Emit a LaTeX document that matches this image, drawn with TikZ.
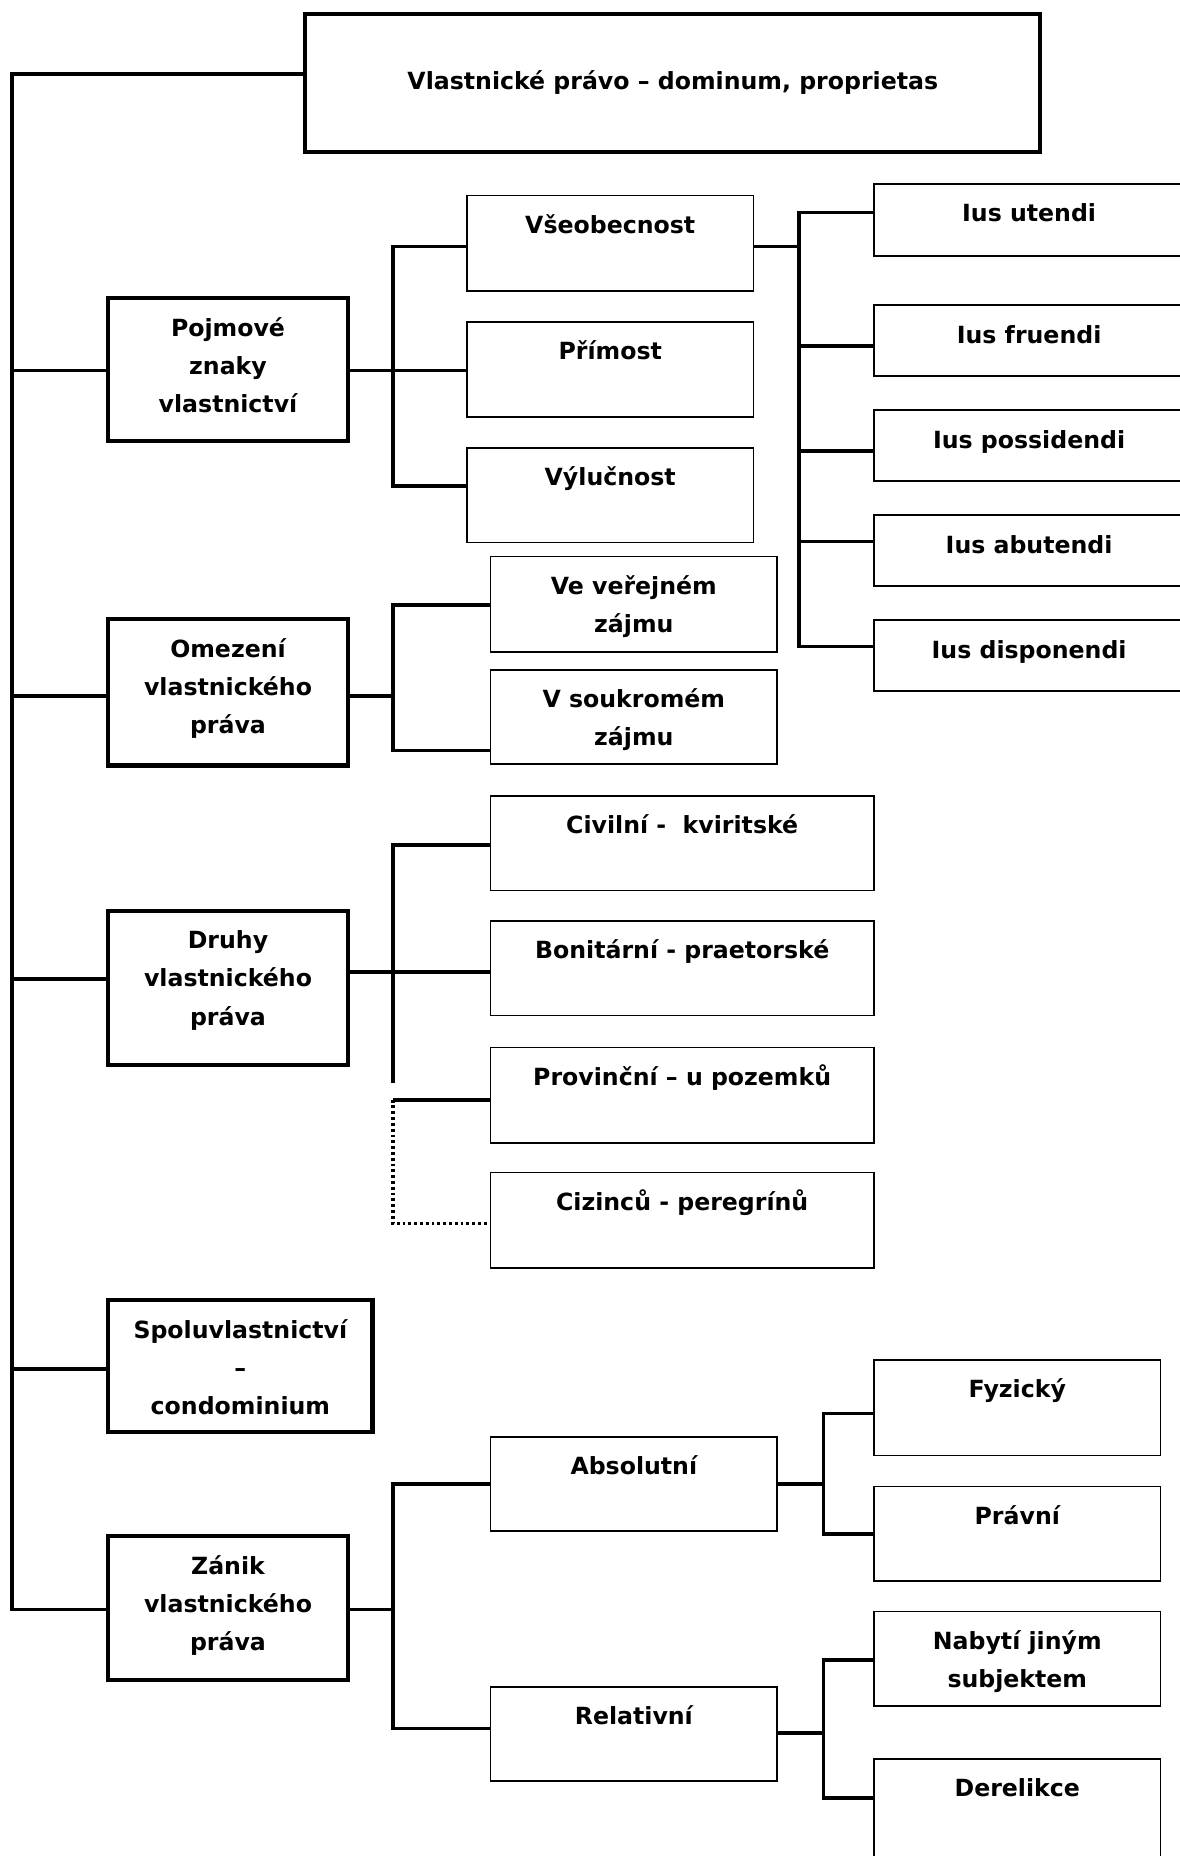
\documentclass[tikz,border=0pt]{standalone}
\usepackage{fontspec}
\setmainfont{DejaVu Sans}
\begin{document}
\begin{tikzpicture}[x=0.02cm,y=-0.02cm,
  font=\fontsize{11.4}{18.4}\selectfont\bfseries,
  box/.style={draw,line width=0.8pt,anchor=north west,inner sep=0pt,align=center,text height=0.64cm},
  twolines/.style={text height=1.29cm},
  threelines/.style={text height=1.94cm},
  mainbox/.style={box,line width=2pt},
  conn/.style={line width=1.8pt},
  dotconn/.style={line width=1.8pt,dash pattern=on 1.4pt off 1.4pt}]
\useasboundingbox (0,0) rectangle (1000,1573);
\fill[white] (0,0) rectangle (1000,1573);
\clip (0,0) rectangle (1000,1573);
\node[draw,line width=2pt,anchor=north west,inner sep=0pt,minimum width=12.46cm,minimum height=2.34cm] (title) at (257,10) {Vlastnické právo – dominum, proprietas};
\node[mainbox,threelines,minimum width=4.06cm,text depth=0.48cm] (pojm) at (90,251) {Pojmové\\znaky\\vlastnictví};
\node[box,minimum width=4.86cm,text depth=0.98cm] (vseob) at (395,165) {Všeobecnost};
\node[box,minimum width=4.86cm,text depth=0.98cm] (prim) at (395,272) {Přímost};
\node[box,minimum width=4.86cm,text depth=0.96cm] (vyluc) at (395,379) {Výlučnost};
\node[box,minimum width=5.26cm,text depth=0.58cm] (utendi) at (740,155) {Ius utendi};
\node[box,minimum width=5.26cm,text depth=0.56cm] (fruendi) at (740,258) {Ius fruendi};
\node[box,minimum width=5.26cm,text depth=0.56cm] (possid) at (740,347) {Ius possidendi};
\node[box,minimum width=5.26cm,text depth=0.56cm] (abut) at (740,436) {Ius abutendi};
\node[box,minimum width=5.26cm,text depth=0.56cm] (dispon) at (740,525) {Ius disponendi};
\node[mainbox,threelines,minimum width=4.06cm,text depth=0.54cm] (omez) at (90,523) {Omezení\\vlastnického\\práva};
\node[box,twolines,minimum width=4.86cm,text depth=0.33cm] (verej) at (415,471) {Ve veřejném\\zájmu};
\node[box,twolines,minimum width=4.86cm,text depth=0.31cm] (souk) at (415,567) {V soukromém\\zájmu};
\node[mainbox,threelines,minimum width=4.06cm,text depth=0.68cm] (druhy) at (90,770) {Druhy\\vlastnického\\práva};
\node[box,minimum width=6.5cm,text depth=0.96cm] (civil) at (415,674) {Civilní -\ \ kviritské};
\node[box,minimum width=6.5cm,text depth=0.96cm] (bonit) at (415,780) {Bonitární - praetorské};
\node[box,minimum width=6.5cm,text depth=0.98cm] (provin) at (415,887) {Provinční – u pozemků};
\node[box,minimum width=6.5cm,text depth=0.98cm] (cizin) at (415,993) {Cizinců - peregrínů};
\node[mainbox,threelines,minimum width=4.48cm,text depth=0.30cm] (spolu) at (90,1100) {Spoluvlastnictví\\–\\condominium};
\node[mainbox,threelines,minimum width=4.06cm,text depth=0.50cm] (zanik) at (90,1300) {Zánik\\vlastnického\\práva};
\node[box,minimum width=4.86cm,text depth=0.96cm] (absol) at (415,1217) {Absolutní};
\node[box,minimum width=4.86cm,text depth=0.96cm] (relat) at (415,1429) {Relativní};
\node[box,minimum width=4.86cm,text depth=0.98cm] (fyz) at (740,1152) {Fyzický};
\node[box,minimum width=4.86cm,text depth=0.96cm] (pravni) at (740,1259) {Právní};
\node[box,twolines,minimum width=4.86cm,text depth=0.31cm] (nabyti) at (740,1365) {Nabytí jiným\\subjektem};
\node[box,minimum width=4.86cm,text depth=1.26cm] (dereli) at (740,1490) {Derelikce};
\coordinate (spine) at (10,63);
\draw[conn] (title.west |- 0,63) -- (spine) -- (spine |- 0,1364) -- (zanik.west |- 0,1364);
\draw[conn] (spine |- 0,314) -- (pojm.west |- 0,314);
\draw[conn] (spine |- 0,590) -- (omez.west |- 0,590);
\draw[conn] (spine |- 0,830) -- (druhy.west |- 0,830);
\draw[conn] (spine |- 0,1160) -- (spolu.west |- 0,1160);
\draw[conn] (pojm.east |- 0,314) -- (prim.west |- 0,314);
\draw[conn] (vseob.west |- 0,209) -- (333,209) -- (333,412) -- (vyluc.west |- 0,412);
\draw[conn] (vseob.east |- 0,209) -- (677,209);
\draw[conn] (utendi.west |- 0,180) -- (677,180) -- (677,548) -- (dispon.west |- 0,548);
\draw[conn] (677,293) -- (fruendi.west |- 0,293);
\draw[conn] (677,382) -- (possid.west |- 0,382);
\draw[conn] (677,459) -- (abut.west |- 0,459);
\draw[conn] (omez.east |- 0,590) -- (333,590);
\draw[conn] (verej.west |- 0,513) -- (333,513) -- (333,636) -- (souk.west |- 0,636);
\draw[conn] (druhy.east |- 0,824) -- (bonit.west |- 0,824);
\draw[conn] (civil.west |- 0,716) -- (333,716) -- (333,918);
\draw[conn] (333,932) -- (provin.west |- 0,932);
\draw[dotconn] (333,932) -- (333,1037) -- (cizin.west |- 0,1037);
\draw[conn] (zanik.east |- 0,1364) -- (333,1364);
\draw[conn] (absol.west |- 0,1258) -- (333,1258) -- (333,1465) -- (relat.west |- 0,1465);
\draw[conn] (absol.east |- 0,1258) -- (698,1258);
\draw[conn] (fyz.west |- 0,1198) -- (698,1198) -- (698,1300) -- (pravni.west |- 0,1300);
\draw[conn] (relat.east |- 0,1469) -- (698,1469);
\draw[conn] (nabyti.west |- 0,1407) -- (698,1407) -- (698,1524) -- (dereli.west |- 0,1524);
\end{tikzpicture}
\end{document}
